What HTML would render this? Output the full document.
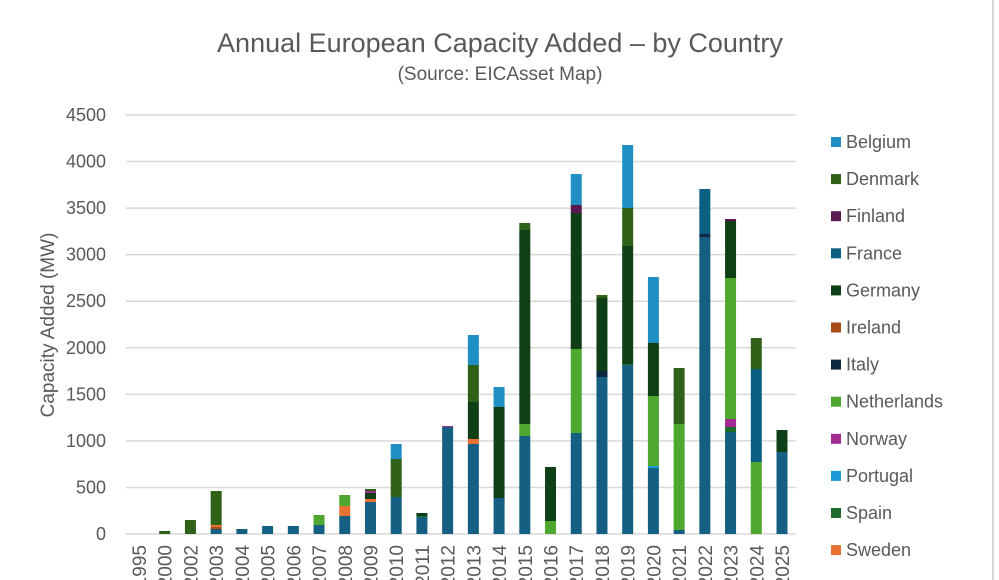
<!DOCTYPE html>
<html><head><meta charset="utf-8"><style>
html,body{margin:0;padding:0;background:#fff}
svg{display:block;font-family:"Liberation Sans",sans-serif}
</style></head><body>
<svg id="c" width="999" height="580" viewBox="0 0 999 580" xmlns="http://www.w3.org/2000/svg">
<rect x="0" y="0" width="999" height="580" fill="#fff"/>
<line x1="993" y1="0" x2="993" y2="580" stroke="#d9d9d9" stroke-width="2"/>
<text x="500" y="52" text-anchor="middle" font-size="27" fill="#595959">Annual European Capacity Added – by Country</text>
<text x="500" y="80" text-anchor="middle" font-size="19" fill="#595959">(Source: EICAsset Map)</text>
<text transform="translate(54,325) rotate(-90)" text-anchor="middle" font-size="19" fill="#595959">Capacity Added (MW)</text>
<g id="grid"></g><g id="bars"></g><g id="lab"></g><g id="leg"></g>
</svg>
<script>
const NS="http://www.w3.org/2000/svg";
function el(p,t,a,txt){const e=document.createElementNS(NS,t);for(const k in a)e.setAttribute(k,a[k]);if(txt!==undefined)e.textContent=txt;document.getElementById(p).appendChild(e);return e;}
const y0=534,y1=115;
for(let i=0;i<=9;i++){const y=y0-(y0-y1)*i/9;el('grid','line',{x1:126,x2:796,y1:y,y2:y,stroke:'#d9d9d9','stroke-width':1.5});
el('lab','text',{x:106,y:y+6,'text-anchor':'end','font-size':18,fill:'#595959'},String(i*500));}
const C={UK:'#156082',BE:'#1f8fc4',DK:'#2f6119',FI:'#5a1a4f',FR:'#0b5f80',DE:'#0f3f17',IE:'#a54d14',IT:'#0e2841',NL:'#4ea72e',NO:'#a02b93',PT:'#1a9ad6',ES:'#1d6a2a',SE:'#e97132'};
const years=['1995','2000','2002','2003','2004','2005','2006','2007','2008','2009','2010','2011','2012','2013','2014','2015','2016','2017','2018','2019','2020','2021','2022','2023','2024','2025'];
const data={
'2000':[['DK',531]],'2002':[['DK',520]],
'2003':[['UK',529],['IE',527],['SE',525],['DK',491]],
'2004':[['UK',529]],'2005':[['UK',526]],'2006':[['UK',526]],
'2007':[['UK',525],['NL',515]],
'2008':[['UK',516],['SE',506],['NL',495]],
'2009':[['UK',502],['SE',499],['DE',493],['NO',491],['DK',489]],
'2010':[['UK',497],['DK',459],['BE',444]],
'2011':[['UK',517],['ES',516],['DE',513]],
'2012':[['UK',427],['NO',426]],
'2013':[['UK',444],['SE',439],['DE',402],['DK',365],['BE',335]],
'2014':[['UK',498],['DE',407],['BE',387]],
'2015':[['UK',436],['NL',424],['DE',230],['DK',223]],
'2016':[['NL',521],['DE',467]],
'2017':[['UK',433],['NL',349],['DE',213],['FI',205],['BE',174]],
'2018':[['UK',377],['IT',371],['DE',298],['DK',295]],
'2019':[['UK',365],['ES',364],['DE',246],['DK',208],['BE',145]],
'2020':[['UK',468],['PT',466],['NL',396],['DE',343],['BE',277]],
'2021':[['UK',530],['NL',424],['DK',368]],
'2022':[['UK',237],['IT',234],['FR',189]],
'2023':[['UK',432],['ES',427],['NO',419],['NL',278],['DE',221],['FI',219]],
'2024':[['NL',462],['FR',369],['DK',338]],
'2025':[['UK',452],['DE',430]]};
years.forEach((yr,i)=>{const cx=139+25.72*i;let b=y0;(data[yr]||[]).forEach(([k,t])=>{el('bars','rect',{x:cx-5.5,y:t,width:11,height:b-t,fill:C[k]});b=t;});
el('lab','text',{transform:`translate(${cx+7},545) rotate(-90)`,'text-anchor':'end','font-size':19,fill:'#595959'},yr);});
const L=[['Belgium','BE'],['Denmark','DK'],['Finland','FI'],['France','FR'],['Germany','DE'],['Ireland','IE'],['Italy','IT'],['Netherlands','NL'],['Norway','NO'],['Portugal','PT'],['Spain','ES'],['Sweden','SE']];
L.forEach(([n,k],i)=>{const y=142+37.1*i;el('leg','rect',{x:831,y:y-5,width:10,height:10,fill:C[k]});el('leg','text',{x:846,y:y+6,'font-size':18,fill:'#595959'},n);});
</script>
</body></html>
